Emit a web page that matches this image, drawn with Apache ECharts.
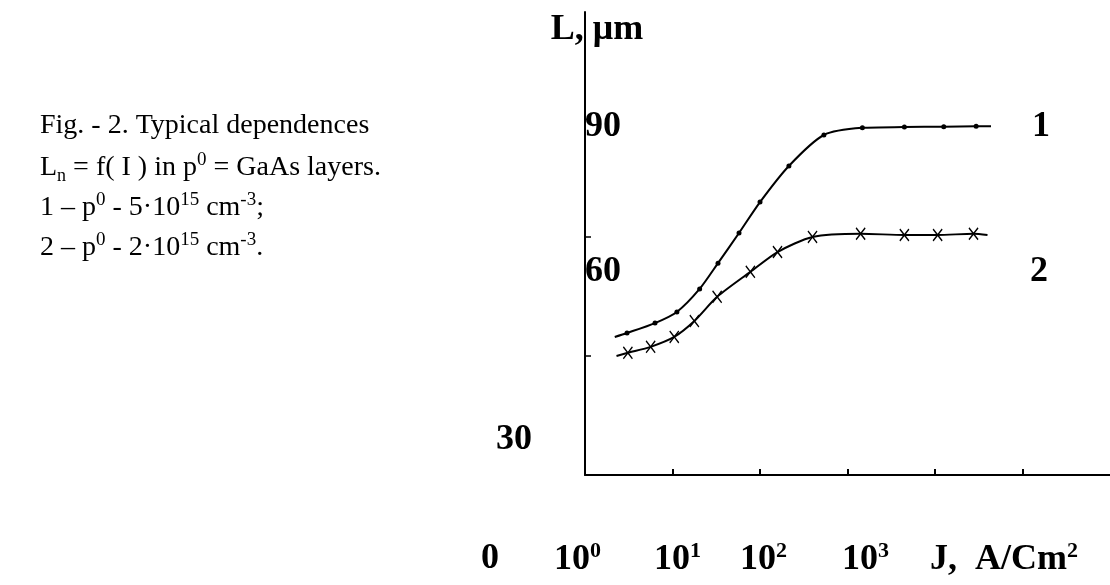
<!DOCTYPE html>
<html><head><meta charset="utf-8">
<script src="https://cdn.jsdelivr.net/npm/echarts@6/dist/echarts.min.js"></script>
<style>html,body{margin:0;padding:0;background:#fff}#c{width:1110px;height:585px}</style>
</head><body><div id="c"></div>
<script>
// ---- data (x = log10 J, y = L in µm) ----
const logJ1 = [-0.66, -0.52, -0.2, 0.05, 0.31, 0.52, 0.76, 1.0, 1.33, 1.73, 2.17, 2.65, 3.1, 3.47, 3.64];
const L1    = [34.8, 35.8, 38.3, 41.1, 46.9, 53.4, 61.0, 68.8, 77.9, 85.7, 87.5, 87.7, 87.8, 87.9, 87.9];
const logJ2 = [-0.64, -0.51, -0.25, 0.02, 0.25, 0.51, 0.89, 1.2, 1.6, 2.15, 2.65, 3.03, 3.44, 3.6];
const L2    = [30.0, 30.8, 32.3, 34.8, 38.8, 44.9, 51.2, 56.2, 60.0, 60.8, 60.5, 60.5, 60.8, 60.5];
const yTickValues = [30, 60];
const xTickValues = [0, 1, 2, 3, 4];
const yLabelTexts = ['90', '60', '30'];
const curveLabelTexts = ['1', '2'];
const xLabelTexts = ['0', '10{s|0}', '10{s|1}', '10{s|2}', '10{s|3}', 'J,  A/Cm{s|2}'];
const yAxisTitle = 'L, μm';
const captionLines = [
  'Fig. - 2. Typical dependences',
  'L{sub|n} = f( I ) in p{sup|0} = GaAs layers.',
  '1 – p{sup|0} - 5·10{sup|15} cm{sup|-3};',
  '2 – p{sup|0} - 2·10{sup|15} cm{sup|-3}.'
];

// ---- layout / style ----
const FONT = '"Liberation Serif","Times New Roman",serif';
const BOLD = 36;
const CAP = 28;
const yLabelPos = [[585, 127], [585, 272], [496, 440]];
const curveLabelPos = [[1032, 127], [1030, 272]];
const xLabelLeft = [481, 554, 654, 740, 842, 930];
const xLabelY = 559;
const captionX = 40, captionY0 = 128, captionDY = 40;

const boldRich = {
  b: {fontFamily: FONT, fontWeight: 'bold', fontSize: BOLD, fill: '#000', verticalAlign: 'bottom', padding: [0, 0, 0, 0]},
  s: {fontFamily: FONT, fontWeight: 'bold', fontSize: 22, fill: '#000', verticalAlign: 'bottom', padding: [0, 0, 15, 0]}
};
const capRich = {
  n: {fontFamily: FONT, fontSize: CAP, fill: '#000', verticalAlign: 'bottom', padding: [0, 0, 4, 0]},
  sup: {fontFamily: FONT, fontSize: 19, fill: '#000', verticalAlign: 'bottom', padding: [0, 0, 16, 0]},
  sub: {fontFamily: FONT, fontSize: 18, fill: '#000', verticalAlign: 'bottom', padding: [0, 0, 0, 0]}
};
function wrapBold(t) { return t.split(/(\{s\|[^}]*\})/).filter(x => x).map(p => p.startsWith('{') ? p : '{b|' + p + '}').join(''); }
function wrapCap(t) { return t.split(/(\{su[bp]\|[^}]*\})/).filter(x => x).map(p => p.startsWith('{') ? p : '{n|' + p + '}').join(''); }

const graphics = [];
captionLines.forEach((t, i) => graphics.push({type: 'text', x: captionX, y: captionY0 + i * captionDY,
  style: {text: wrapCap(t), rich: capRich, textVerticalAlign: 'middle', textAlign: 'left'}}));
yLabelTexts.forEach((t, i) => graphics.push({type: 'text', x: yLabelPos[i][0], y: yLabelPos[i][1],
  style: {text: wrapBold(t), rich: boldRich, textVerticalAlign: 'middle', textAlign: 'left'}}));
curveLabelTexts.forEach((t, i) => graphics.push({type: 'text', x: curveLabelPos[i][0], y: curveLabelPos[i][1],
  style: {text: wrapBold(t), rich: boldRich, textVerticalAlign: 'middle', textAlign: 'left'}}));
xLabelTexts.forEach((t, i) => graphics.push({type: 'text', x: xLabelLeft[i], y: xLabelY,
  style: {text: wrapBold(t), rich: boldRich, textVerticalAlign: 'middle', textAlign: 'left'}}));
graphics.push({type: 'text', x: 597, y: 30,
  style: {text: wrapBold(yAxisTitle), rich: boldRich, textVerticalAlign: 'middle', textAlign: 'center'}});

function buildData(xs, ys) {
  return xs.map((x, i) => {
    const d = {value: [x, ys[i]]};
    if (i === 0 || i === xs.length - 1) d.symbol = 'none';
    return d;
  });
}
const crossPath = 'path://M0,0.9L0.9,0L5,4.1L9.1,0L10,0.9L5.9,5L10,9.1L9.1,10L5,5.9L0.9,10L0,9.1L4.1,5Z';

const chart = echarts.init(document.getElementById('c'), null, {renderer: 'canvas'});
chart.setOption({
  backgroundColor: '#fff',
  animation: false,
  grid: {left: 585, top: 12, width: 526, height: 463, containLabel: false},
  xAxis: {type: 'value', min: -1, max: 5, interval: 1,
    axisLine: {show: true, onZero: false, lineStyle: {color: '#000', width: 2}},
    axisTick: {show: true, inside: true, length: 6, customValues: xTickValues, lineStyle: {color: '#000', width: 2}},
    axisLabel: {show: false}, splitLine: {show: false}},
  yAxis: {type: 'value', min: 0, max: 116.7, interval: 30,
    axisLine: {show: true, onZero: false, lineStyle: {color: '#000', width: 2}},
    axisTick: {show: true, inside: true, length: 6, customValues: yTickValues, lineStyle: {color: '#000', width: 1.5}},
    axisLabel: {show: false}, splitLine: {show: false}},
  series: [
    {type: 'line', data: buildData(logJ1, L1), smooth: 0.25,
      symbol: 'circle', symbolSize: 5, showAllSymbol: true,
      lineStyle: {color: '#000', width: 2}, itemStyle: {color: '#000'}},
    {type: 'line', data: buildData(logJ2, L2), smooth: 0.25,
      symbol: crossPath, symbolSize: [10, 13], showAllSymbol: true,
      lineStyle: {color: '#000', width: 2}, itemStyle: {color: '#000'}}
  ],
  graphic: graphics
});
</script></body></html>
